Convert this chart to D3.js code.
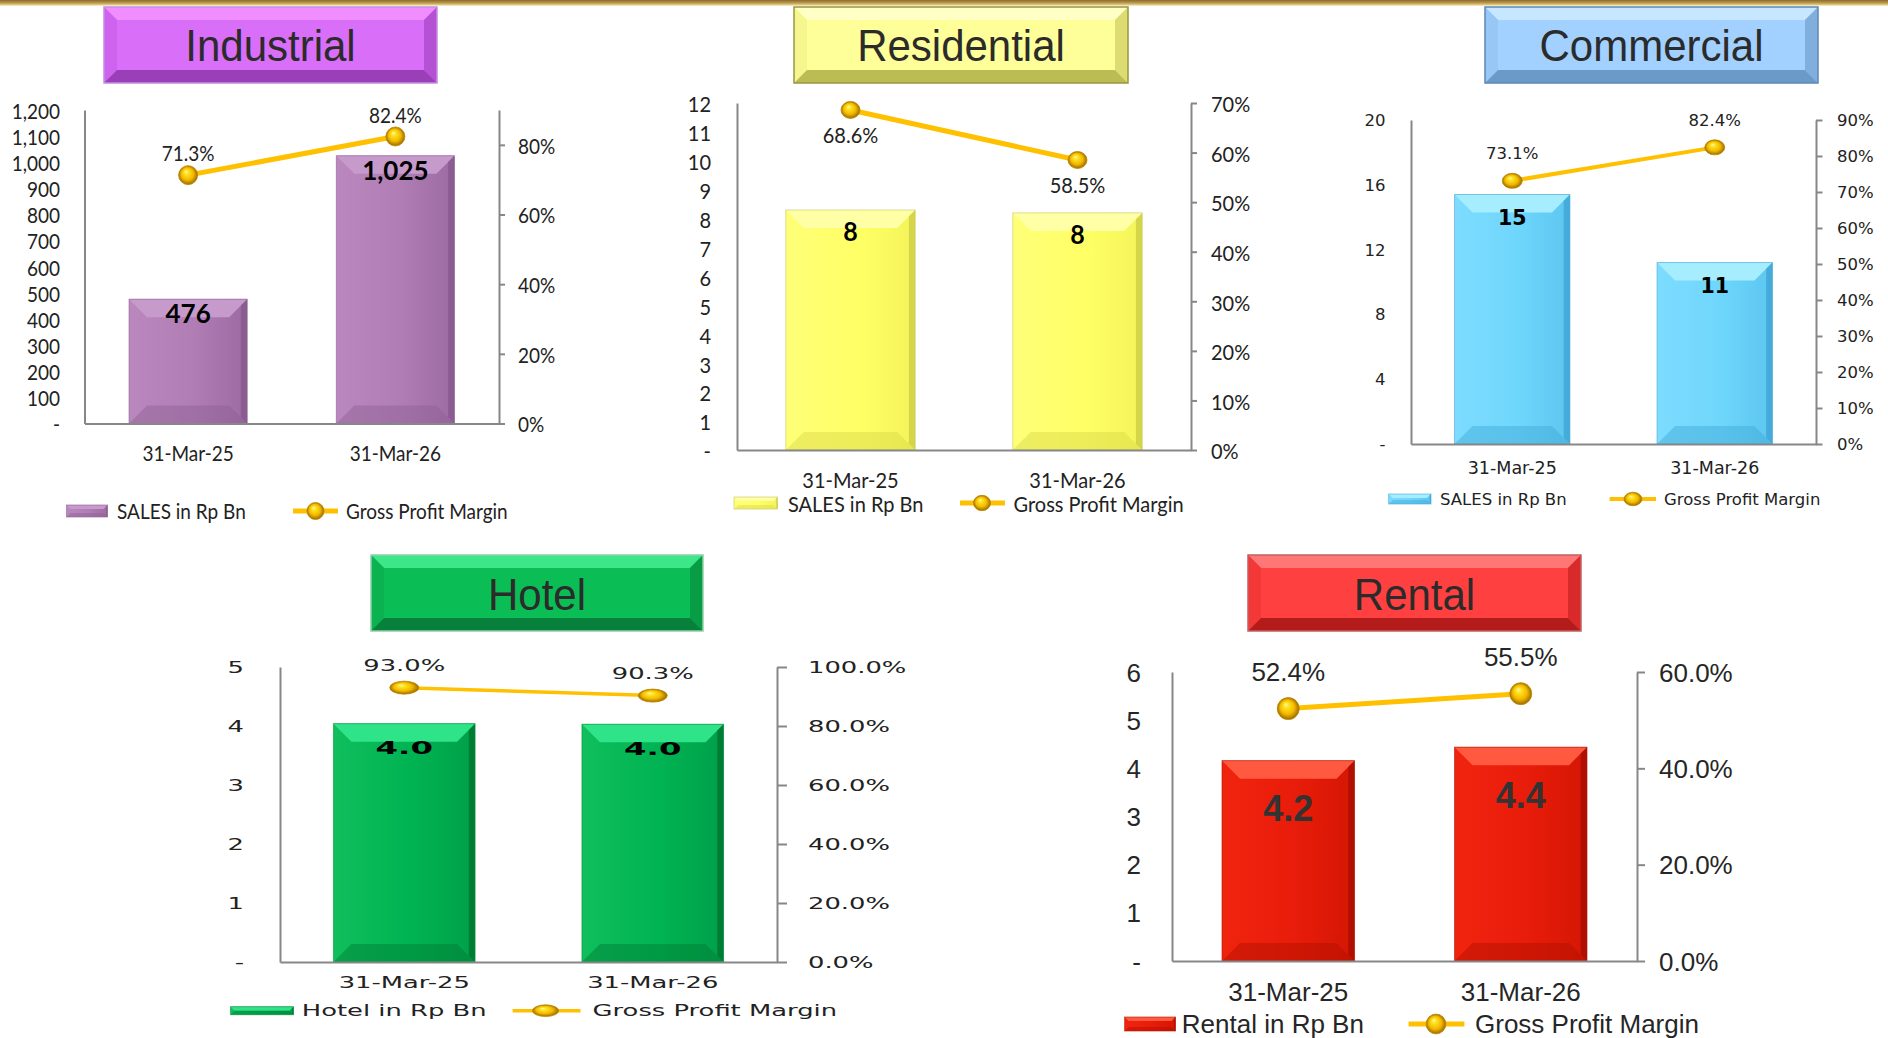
<!DOCTYPE html>
<html><head><meta charset="utf-8">
<script src="https://cdn.jsdelivr.net/npm/d3@7"></script>
<style>body{margin:0;background:#fff;overflow:hidden}svg{display:block}</style>
</head><body>
<svg id="chart" width="1888" height="1038"></svg>
<script>
// ---------------- DATA ----------------
const categories = ["31-Mar-25", "31-Mar-26"];
const titles = ["Industrial", "Residential", "Commercial", "Hotel", "Rental"];
const barSeriesNames = ["SALES in Rp Bn", "SALES in Rp Bn", "SALES in Rp Bn", "Hotel in Rp Bn", "Rental in Rp Bn"];
const lineSeriesName = "Gross Profit Margin";

const industrialSales = [476, 1025];
const industrialMargin = [0.713, 0.824];
const residentialSales = [8.3, 8.2];
const residentialMargin = [0.686, 0.585];
const commercialSales = [15.4, 11.2];
const commercialMargin = [0.731, 0.824];
const hotelSales = [4.04, 4.03];
const hotelMargin = [0.930, 0.903];
const rentalSales = [4.16, 4.44];
const rentalMargin = [0.524, 0.555];

const industrialLeftTicks = [0, 100, 200, 300, 400, 500, 600, 700, 800, 900, 1000, 1100, 1200];
const industrialRightTicks = [0, 0.2, 0.4, 0.6, 0.8];
const residentialLeftTicks = [0, 1, 2, 3, 4, 5, 6, 7, 8, 9, 10, 11, 12];
const residentialRightTicks = [0, 0.1, 0.2, 0.3, 0.4, 0.5, 0.6, 0.7];
const commercialLeftTicks = [0, 4, 8, 12, 16, 20];
const commercialRightTicks = [0, 0.1, 0.2, 0.3, 0.4, 0.5, 0.6, 0.7, 0.8, 0.9];
const hotelLeftTicks = [0, 1, 2, 3, 4, 5];
const hotelRightTicks = [0, 0.2, 0.4, 0.6, 0.8, 1.0];
const rentalLeftTicks = [0, 1, 2, 3, 4, 5, 6];
const rentalRightTicks = [0, 0.2, 0.4, 0.6];

// ---------------- HELPERS ----------------
const svg = d3.select("#chart");
const defs = svg.append("defs");
const dashZero = f => d => d === 0 ? "-" : f(d);

function hGrad(id, c0, c1, c2) {
  const g = defs.append("linearGradient").attr("id", id).attr("x1", 0).attr("x2", 1).attr("y1", 0).attr("y2", 0);
  g.append("stop").attr("offset", "0%").attr("stop-color", c0);
  g.append("stop").attr("offset", "55%").attr("stop-color", c1);
  g.append("stop").attr("offset", "100%").attr("stop-color", c2);
}
function vGrad(id, stops) {
  const g = defs.append("linearGradient").attr("id", id).attr("x1", 0).attr("x2", 0).attr("y1", 0).attr("y2", 1);
  stops.forEach(s => g.append("stop").attr("offset", s[0]).attr("stop-color", s[1]).attr("stop-opacity", s[2] == null ? 1 : s[2]));
}
// gold sphere marker
const rg = defs.append("radialGradient").attr("id", "ball").attr("cx", "50%").attr("cy", "50%").attr("r", "50%").attr("fx", "38%").attr("fy", "30%");
[["0%", "#fff6b8"], ["25%", "#ffe21c"], ["65%", "#f2b800"], ["100%", "#9a6a00"]].forEach(s => rg.append("stop").attr("offset", s[0]).attr("stop-color", s[1]));

vGrad("goldbar", [["0%", "#8c6c2c"], ["45%", "#b8954a"], ["80%", "#e2c986"], ["100%", "#fff6da"]]);

const P = pts => pts.map(p => p.join(",")).join(" ");

function bevelBox(g, x, y, w, h, b, c) {
  g.append("rect").attr("x", x).attr("y", y).attr("width", w).attr("height", h).attr("fill", c.face);
  g.append("polygon").attr("points", P([[x, y], [x + w, y], [x + w - b, y + b], [x + b, y + b]])).attr("fill", c.top);
  g.append("polygon").attr("points", P([[x, y], [x + b, y + b], [x + b, y + h - b], [x, y + h]])).attr("fill", c.left);
  g.append("polygon").attr("points", P([[x + w, y], [x + w, y + h], [x + w - b, y + h - b], [x + w - b, y + b]])).attr("fill", c.right);
  g.append("polygon").attr("points", P([[x, y + h], [x + b, y + h - b], [x + w - b, y + h - b], [x + w, y + h]])).attr("fill", c.bottom);
  g.append("rect").attr("x", x).attr("y", y).attr("width", w).attr("height", h).attr("fill", "none").attr("stroke", c.stroke).attr("stroke-width", 1.5);
}

function bevelBar(g, x, y, w, h, b, c, gradId) {
  g.append("rect").attr("x", x).attr("y", y).attr("width", w).attr("height", h).attr("fill", `url(#${gradId})`);
  b = Math.min(b, w / 2, h / 2);
  g.append("polygon").attr("points", P([[x, y], [x + w, y], [x + w - b, y + b], [x + b, y + b]])).attr("fill", c.top);
  g.append("polygon").attr("points", P([[x, y + h], [x + b, y + h - b], [x + w - b, y + h - b], [x + w, y + h]])).attr("fill", c.bottom).attr("opacity", 0.45);
  g.append("polygon").attr("points", P([[x + w, y], [x + w, y + h], [x + w - b * 0.35, y + h - b * 0.35], [x + w - b * 0.35, y + b * 0.35]])).attr("fill", c.right).attr("opacity", 0.7);
  g.append("rect").attr("x", x).attr("y", y).attr("width", w).attr("height", h).attr("fill", "none").attr("stroke", c.stroke).attr("stroke-width", 1).attr("opacity", 0.6);
}

function label(g, x, y, s, f) {
  return g.append("text")
    .attr("transform", `translate(${x},${y}) scale(${f.sx || 1},${f.sy || 1})`)
    .attr("text-anchor", f.anchor || "middle")
    .attr("dominant-baseline", "central")
    .attr("font-family", f.family).attr("font-size", f.size)
    .attr("font-weight", f.weight || "normal")
    .attr("fill", f.fill || "#222").text(s);
}

function styleAxisText(axG, f, dx, dy, anchor) {
  axG.attr("font-family", null).attr("font-size", null);
  axG.selectAll("text").attr("x", null).attr("y", null).attr("dy", null)
    .attr("transform", `translate(${dx},${dy}) scale(${f.sx || 1},${f.sy || 1})`)
    .attr("text-anchor", anchor).attr("dominant-baseline", "central")
    .attr("font-family", f.family).attr("font-size", f.size).attr("fill", f.fill || "#222");
}

// ---------------- PANELS ----------------
const LATO = "Lato, Carlito, Calibri, sans-serif";
const DJV = "'DejaVu Sans', Verdana, sans-serif";
const ARIAL = "'Liberation Sans', Arial, sans-serif";

const panels = [
  {
    title: titles[0], sales: industrialSales, margin: industrialMargin, barName: barSeriesNames[0],
    leftTicks: industrialLeftTicks, rightTicks: industrialRightTicks, leftMax: 1200, rightMax: 0.9,
    leftFmt: dashZero(d3.format(",")), rightFmt: d3.format(".0%"), barFmt: d3.format(",.0f"), lineFmt: d3.format(".1%"),
    L: { x0: 84.5, x1: 499, yTop: 110, yBase: 423.5, box: [104, 7, 437, 83], titleCy: 46, padL: 24.5, tickR: 6, padR: 19,
      catDy: 29.5, barDy: 14, lineDy: -22, rx: 9.5, ry: 9.5, lw: 5,
      lg: { cy: 511, sw: [66.5, 107.5, 12], t1: 117, ln: [293, 338], mk: 315.5, t2: 346 } },
    font: { family: LATO, size: 19, sy: 1.08, fill: "#222" }, barFont: { family: LATO, size: 26, sy: 1.05, weight: "bold", fill: "#000" },
    boxC: { face: "#d96ef8", top: "#f08eff", left: "#cd63ee", right: "#b451d5", bottom: "#9a3fb8", stroke: "#c48ee0" },
    barC: { g: ["#ba88be", "#b07db5", "#9c6ba1"], top: "#c69acb", bottom: "#8e5f93", right: "#83558a", stroke: "#8e5f93" }
  },
  {
    title: titles[1], sales: residentialSales, margin: residentialMargin, barName: barSeriesNames[1],
    leftTicks: residentialLeftTicks, rightTicks: residentialRightTicks, leftMax: 12, rightMax: 0.7,
    leftFmt: dashZero(d3.format("d")), rightFmt: d3.format(".0%"), barFmt: d3.format(",.0f"), lineFmt: d3.format(".1%"),
    L: { x0: 737, x1: 1191, yTop: 103, yBase: 450, box: [794, 7, 1128, 83], titleCy: 46, padL: 26, tickR: 6, padR: 20,
      catDy: 29, barDy: 21, lineDy: 24, rx: 9.5, ry: 8.5, lw: 5,
      lg: { cy: 503, sw: [734, 777.5, 12], t1: 788, ln: [960, 1005], mk: 982, t2: 1013.5 } },
    font: { family: LATO, size: 20, sy: 1.08, fill: "#222" }, barFont: { family: LATO, size: 25, sy: 1.05, weight: "bold", fill: "#000" },
    boxC: { face: "#ffff99", top: "#ffffc6", left: "#f6f68e", right: "#dcdc72", bottom: "#bcbc55", stroke: "#98983e" },
    barC: { g: ["#ffff78", "#ffff66", "#f4f45a"], top: "#ffffa6", bottom: "#d8d84a", right: "#c8c842", stroke: "#c8c860" }
  },
  {
    title: titles[2], sales: commercialSales, margin: commercialMargin, barName: barSeriesNames[2],
    leftTicks: commercialLeftTicks, rightTicks: commercialRightTicks, leftMax: 20, rightMax: 0.9,
    leftFmt: dashZero(d3.format("d")), rightFmt: d3.format(".0%"), barFmt: d3.format(",.0f"), lineFmt: d3.format(".1%"),
    L: { x0: 1411, x1: 1816, yTop: 120, yBase: 444, box: [1485, 7, 1818, 83], titleCy: 46, padL: 25.5, tickR: 6.5, padR: 21,
      catDy: 24, barDy: 23.5, lineDy: -27, rx: 10, ry: 7.5, lw: 4,
      lg: { cy: 499, sw: [1388.6, 1431, 10], t1: 1440, ln: [1609.6, 1656], mk: 1633, t2: 1664 } },
    font: { family: DJV, size: 16.5, fill: "#222" }, catFont: { family: DJV, size: 17.5, fill: "#222" },
    barFont: { family: DJV, size: 20.5, weight: "bold", fill: "#000" },
    boxC: { face: "#a2d0ff", top: "#c6e7ff", left: "#98c7f5", right: "#80afde", bottom: "#6b99c8", stroke: "#5d88b5" },
    barC: { g: ["#7ddcff", "#6fd6fb", "#5cc6f0"], top: "#a6eeff", bottom: "#3fa8d8", right: "#3c9fd0", stroke: "#4aa8d4" }
  },
  {
    title: titles[3], sales: hotelSales, margin: hotelMargin, barName: barSeriesNames[3],
    leftTicks: hotelLeftTicks, rightTicks: hotelRightTicks, leftMax: 5, rightMax: 1.0,
    leftFmt: dashZero(d3.format("d")), rightFmt: d3.format(".1%"), barFmt: d3.format(".1f"), lineFmt: d3.format(".1%"),
    L: { x0: 280, x1: 777, yTop: 667, yBase: 962, box: [371, 555, 703, 631], titleCy: 595, padL: 36, tickR: 10, padR: 31,
      catDy: 20.7, barDy: 24, lineDy: -22, rx: 14.5, ry: 6.5, lw: 3.5,
      lg: { cy: 1010.7, sw: [230.5, 293.5, 8], t1: 301.8, ln: [512.6, 580.5], mk: 545.6, t2: 592.6 } },
    font: { family: DJV, size: 15, sx: 1.72, fill: "#222" },
    barFont: { family: DJV, size: 18.5, sx: 1.75, weight: "bold", fill: "#000" },
    boxC: { face: "#0bbd55", top: "#3ee68a", left: "#0ab350", right: "#089c45", bottom: "#06803a", stroke: "#8fcfa8" },
    barC: { g: ["#10be5c", "#00b352", "#00a048"], top: "#2fe388", bottom: "#007a34", right: "#006e2e", stroke: "#0a8c40" }
  },
  {
    title: titles[4], sales: rentalSales, margin: rentalMargin, barName: barSeriesNames[4],
    leftTicks: rentalLeftTicks, rightTicks: rentalRightTicks, leftMax: 6, rightMax: 0.6,
    leftFmt: dashZero(d3.format("d")), rightFmt: d3.format(".1%"), barFmt: d3.format(".1f"), lineFmt: d3.format(".1%"),
    L: { x0: 1172, x1: 1637, yTop: 672, yBase: 961, box: [1248, 555, 1581, 631], titleCy: 595, padL: 31, tickR: 8, padR: 22,
      catDy: 31, barDy: 48, lineDy: -37, rx: 11, ry: 11, lw: 5,
      lg: { cy: 1024, sw: [1124.6, 1175.5, 14], t1: 1181.8, ln: [1408.6, 1464.4], mk: 1436, t2: 1475 } },
    font: { family: ARIAL, size: 26, fill: "#262626" }, barFont: { family: ARIAL, size: 36, weight: "bold", fill: "#333" },
    boxC: { face: "#ff4040", top: "#ff7676", left: "#f43838", right: "#d82a2a", bottom: "#b41c1c", stroke: "#c46060" },
    barC: { g: ["#f0240e", "#e81c0a", "#d51604"], top: "#ff5a40", bottom: "#b01000", right: "#a00e00", stroke: "#b01808" }
  }
];

// top gold strip
svg.append("rect").attr("x", 0).attr("y", 0).attr("width", 1888).attr("height", 6).attr("fill", "url(#goldbar)");

const AXC = "#878787";

panels.forEach((p, pi) => {
  const L = p.L;
  const g = svg.append("g");
  const x = d3.scaleBand().domain(categories).range([L.x0, L.x1]).paddingInner(0.43).paddingOuter(0.215);
  const yL = d3.scaleLinear().domain([0, p.leftMax]).range([L.yBase, L.yTop]);
  const yR = d3.scaleLinear().domain([0, p.rightMax]).range([L.yBase, L.yTop]);
  const gid = "bar" + pi;
  hGrad(gid, p.barC.g[0], p.barC.g[1], p.barC.g[2]);

  // title box
  const bx = L.box;
  bevelBox(g, bx[0], bx[1], bx[2] - bx[0], bx[3] - bx[1], 13, p.boxC);
  label(g, (bx[0] + bx[2]) / 2, L.titleCy, p.title, { family: ARIAL, size: 42, sy: 1.06, fill: "#2b2b2b" });

  // bars
  const bw = x.bandwidth();
  p.sales.forEach((v, i) => {
    const xx = x(categories[i]), yy = yL(v);
    bevelBar(g, xx, yy, bw, L.yBase - yy, 18, p.barC, gid);
  });

  // axes
  const axL = g.append("g").attr("transform", `translate(${L.x0},0)`)
    .call(d3.axisLeft(yL).tickValues(p.leftTicks).tickFormat(p.leftFmt).tickSize(0).tickSizeOuter(0));
  axL.select(".domain").attr("stroke", AXC).attr("stroke-width", 2);
  styleAxisText(axL, p.font, -L.padL, 0, "end");

  const axR = g.append("g").attr("transform", `translate(${L.x1},0)`)
    .call(d3.axisRight(yR).tickValues(p.rightTicks).tickFormat(p.rightFmt).tickSize(L.tickR).tickSizeOuter(0));
  axR.select(".domain").attr("stroke", AXC).attr("stroke-width", 2);
  axR.selectAll(".tick line").attr("stroke", AXC).attr("stroke-width", 2);
  styleAxisText(axR, p.font, L.padR, 0, "start");

  const axB = g.append("g").attr("transform", `translate(0,${L.yBase})`)
    .call(d3.axisBottom(x).tickSize(0).tickSizeOuter(0));
  axB.select(".domain").attr("stroke", AXC).attr("stroke-width", 2);
  styleAxisText(axB, p.catFont || p.font, 0, L.catDy, "middle");

  // bar labels
  p.sales.forEach((v, i) => {
    label(g, x(categories[i]) + bw / 2, yL(v) + L.barDy, p.barFmt(v), p.barFont);
  });

  // margin line
  const pts = p.margin.map((m, i) => [x(categories[i]) + bw / 2, yR(m)]);
  g.append("path").attr("d", d3.line()(pts)).attr("fill", "none").attr("stroke", "#ffc000")
    .attr("stroke-width", L.lw).attr("stroke-linecap", "round");
  pts.forEach(pt => {
    g.append("ellipse").attr("cx", pt[0]).attr("cy", pt[1]).attr("rx", L.rx).attr("ry", L.ry)
      .attr("fill", "url(#ball)").attr("stroke", "#c08a00").attr("stroke-width", 0.8);
  });
  p.margin.forEach((m, i) => {
    label(g, pts[i][0], pts[i][1] + L.lineDy, p.lineFmt(m), p.font);
  });

  // legend
  const lg = L.lg;
  const lgid = "lg" + pi;
  hGrad(lgid, p.barC.g[0], p.barC.g[1], p.barC.g[2]);
  bevelBar(g, lg.sw[0], lg.cy - lg.sw[2] / 2, lg.sw[1] - lg.sw[0], lg.sw[2], Math.min(4, lg.sw[2] / 2), p.barC, lgid);
  label(g, lg.t1, lg.cy, p.barName, Object.assign({}, p.font, { anchor: "start" }));
  g.append("line").attr("x1", lg.ln[0]).attr("x2", lg.ln[1]).attr("y1", lg.cy).attr("y2", lg.cy)
    .attr("stroke", "#ffc000").attr("stroke-width", L.lw);
  g.append("ellipse").attr("cx", lg.mk).attr("cy", lg.cy).attr("rx", L.rx * 0.9).attr("ry", L.ry * 0.9)
    .attr("fill", "url(#ball)").attr("stroke", "#c08a00").attr("stroke-width", 0.8);
  label(g, lg.t2, lg.cy, lineSeriesName, Object.assign({}, p.font, { anchor: "start" }));
});
</script>
</body></html>
